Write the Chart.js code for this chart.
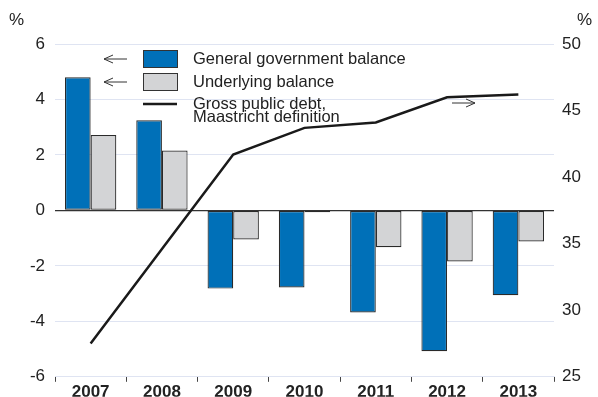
<!DOCTYPE html>
<html>
<head>
<meta charset="utf-8">
<script src="https://cdn.jsdelivr.net/npm/chart.js"></script>
<style>
  html, body { margin: 0; padding: 0; background: #fff; }
  #wrap { position: relative; width: 598px; height: 397px; }
</style>
</head>
<body>
<div id="wrap"><canvas id="chart" width="598" height="397"></canvas></div>
<script>
/* ---------- DATA ---------- */
const years = ["2007", "2008", "2009", "2010", "2011", "2012", "2013"];
const generalBalance = [4.8, 3.25, -2.82, -2.78, -3.68, -5.08, -3.06];
const underlyingBalance = [2.72, 2.16, -1.05, -0.07, -1.33, -1.84, -1.12];
const grossDebt = [27.5, 34.6, 41.7, 43.7, 44.1, 46.0, 46.2];
const leftTicks = [-6, -4, -2, 0, 2, 4, 6];
const rightTicks = [25, 30, 35, 40, 45, 50];

const FONT = "'Liberation Sans', Arial, Helvetica, sans-serif";

/* ---------- LEGEND + ANNOTATIONS ---------- */
function arrow(ctx, x1, x2, y) {
  // open arrowhead at x2
  const dir = x2 > x1 ? -1 : 1;
  ctx.beginPath();
  ctx.moveTo(x1, y); ctx.lineTo(x2, y);
  ctx.moveTo(x2 + dir * 9, y - 4); ctx.lineTo(x2, y); ctx.lineTo(x2 + dir * 9, y + 4);
  ctx.stroke();
}

const overlay = {
  id: "overlay",
  afterDraw(chart) {
    const ctx = chart.ctx;
    ctx.save();
    ctx.fillStyle = "#222";
    ctx.font = "17px " + FONT;
    ctx.textBaseline = "middle";
    ctx.textAlign = "left";
    ctx.fillText("%", 9, 20);
    ctx.fillText("%", 577, 20);

    // legend boxes
    ctx.lineWidth = 1;
    ctx.strokeStyle = "#333";
    ctx.fillStyle = "#0070b8";
    ctx.fillRect(143.5, 50.5, 34, 17); ctx.strokeRect(143.5, 50.5, 34, 17);
    ctx.fillStyle = "#d3d4d6";
    ctx.fillRect(143.5, 73.5, 34, 17); ctx.strokeRect(143.5, 73.5, 34, 17);
    ctx.strokeStyle = "#1a1a1a";
    ctx.lineWidth = 2.5;
    ctx.beginPath(); ctx.moveTo(143, 104); ctx.lineTo(177, 104); ctx.stroke();

    ctx.fillStyle = "#222";
    ctx.font = "16.5px " + FONT;
    ctx.fillText("General government balance", 193, 59);
    ctx.fillText("Underlying balance", 193, 82);
    ctx.fillText("Gross public debt,", 193, 104);
    ctx.fillText("Maastricht definition", 193, 117);

    // arrows
    ctx.strokeStyle = "#333";
    ctx.lineWidth = 1;
    arrow(ctx, 127, 104, 59);
    arrow(ctx, 127, 104, 82);
    arrow(ctx, 452, 475, 103);
    ctx.restore();
  }
};

/* ---------- CHART ---------- */
new Chart(document.getElementById("chart"), {
  type: "bar",
  data: {
    labels: years,
    datasets: [
      {
        type: "line",
        label: "Gross public debt, Maastricht definition",
        data: grossDebt,
        yAxisID: "y1",
        borderColor: "#1a1a1a",
        borderWidth: 2.5,
        pointRadius: 0,
        tension: 0,
        order: 0
      },
      {
        label: "General government balance",
        data: generalBalance,
        yAxisID: "y",
        backgroundColor: "#0070b8",
        borderColor: "#2a2a2a",
        borderWidth: 1.2,
        borderSkipped: false,
        order: 1
      },
      {
        label: "Underlying balance",
        data: underlyingBalance,
        yAxisID: "y",
        backgroundColor: "#d3d4d6",
        borderColor: "#2a2a2a",
        borderWidth: 1.2,
        borderSkipped: false,
        order: 1
      }
    ]
  },
  options: {
    responsive: false,
    animation: false,
    categoryPercentage: 0.72,
    barPercentage: 1,
    layout: { padding: { top: 44, bottom: 0, left: 0, right: 0 } },
    plugins: { legend: { display: false }, tooltip: { enabled: false } },
    scales: {
      x: {
        offset: true,
        border: { display: true, color: "#dfe4f2" },
        grid: { offset: true, drawOnChartArea: false, tickLength: 5, color: "#444" },
        ticks: { color: "#222", font: { family: FONT, size: 17, weight: "bold" }, padding: 0 },
        afterFit(s) { s.height = 20; }
      },
      y: {
        position: "left",
        min: -6, max: 6,
        afterBuildTicks(s) { s.ticks = leftTicks.map(v => ({ value: v })); },
        border: { display: false },
        grid: {
          drawTicks: false,
          color: ctx => ctx.tick && ctx.tick.value === 0 ? "#333" : "#dfe4f2",
          lineWidth: ctx => ctx.tick && ctx.tick.value === 0 ? 1.2 : 1
        },
        ticks: { color: "#222", font: { family: FONT, size: 17 }, padding: 10 },
        afterFit(s) { s.width = 55; }
      },
      y1: {
        position: "right",
        min: 25, max: 50,
        afterBuildTicks(s) { s.ticks = rightTicks.map(v => ({ value: v })); },
        border: { display: false },
        grid: { drawOnChartArea: false, drawTicks: false },
        ticks: { color: "#222", font: { family: FONT, size: 17 }, padding: 8 },
        afterFit(s) { s.width = 44; }
      }
    }
  },
  plugins: [overlay]
});
</script>
</body>
</html>
